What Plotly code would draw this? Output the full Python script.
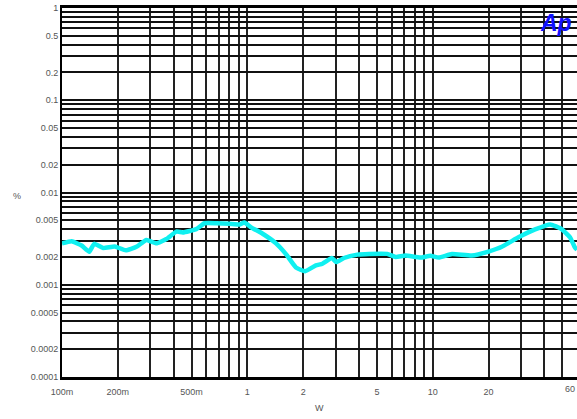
import plotly.graph_objects as go

# Data (W vs THD+N %)
power_w = [0.1, 0.1128, 0.1276, 0.1402, 0.1492, 0.1667, 0.1927, 0.2209, 0.2521, 0.2854,
           0.3229, 0.3656, 0.4137, 0.4489, 0.530, 0.5873, 0.6787, 0.8002, 0.9058, 0.9636,
           1.047, 1.209, 1.427, 1.615, 1.828, 2.05, 2.341, 2.54, 2.854, 3.021,
           3.322, 3.918, 4.529, 5.68, 6.302, 7.133, 8.59, 9.719, 10.77, 12.7,
           16.27, 20.0, 23.59, 29.0, 35.66, 42.95, 49.57, 55.0, 58.5, 60.0]
thdn_pct = [0.00281, 0.00296, 0.00266, 0.00228, 0.00278, 0.00250, 0.00260, 0.00236, 0.00258, 0.00306,
            0.00281, 0.00313, 0.00377, 0.00369, 0.00401, 0.00464, 0.00464, 0.00459, 0.00451, 0.00472,
            0.00419, 0.00357, 0.00281, 0.00215, 0.00154, 0.00140, 0.00162, 0.00169, 0.00195, 0.00176,
            0.00195, 0.00212, 0.00216, 0.00216, 0.00200, 0.00207, 0.00197, 0.00206, 0.00197, 0.00215,
            0.00207, 0.00229, 0.00258, 0.00327, 0.00398, 0.00451, 0.00401, 0.00327, 0.00253, 0.00240]

x_labels = {0.1: "100m", 0.2: "200m", 0.5: "500m", 1: "1", 2: "2", 5: "5", 10: "10", 20: "20"}
x_last_label = "60"
y_labels = {1: "1", 0.5: "0.5", 0.2: "0.2", 0.1: "0.1", 0.05: "0.05", 0.02: "0.02", 0.01: "0.01",
            0.005: "0.005", 0.002: "0.002", 0.001: "0.001", 0.0005: "0.0005", 0.0002: "0.0002",
            0.0001: "0.0001"}

# grid positions 1..9 per decade
x_grid = []
for dec in [0.1, 1, 10]:
    for m in range(1, 10):
        v = round(dec * m, 6)
        if v <= 60:
            x_grid.append(v)
y_grid = []
for dec in [0.0001, 0.001, 0.01, 0.1]:
    for m in range(1, 10):
        y_grid.append(round(dec * m, 8))
y_grid.append(1)

x_text = [x_labels.get(v, "") for v in x_grid]
y_text = [y_labels.get(v, "") for v in y_grid]

fig = go.Figure()
fig.add_trace(go.Scatter(x=power_w, y=thdn_pct, mode="lines",
                         line=dict(color="#10F0F0", width=4.5, shape="spline", smoothing=0.4),
                         showlegend=False))

tick_font = dict(family="Liberation Sans", size=9, color="#555555")
fig.update_layout(
    width=577, height=419,
    margin=dict(l=62, r=0, t=8, b=42),
    paper_bgcolor="white", plot_bgcolor="white",
    xaxis=dict(type="log", range=[-1, 1.7782], tickmode="array", tickvals=x_grid, ticktext=x_text,
               showgrid=True, gridcolor="#222222", gridwidth=1.5, zeroline=False,
               showline=True, linecolor="black", linewidth=3, mirror=True,
               ticks="", tickfont=tick_font, automargin=False, ticklabelstandoff=4),
    yaxis=dict(type="log", range=[-4, 0], tickmode="array", tickvals=y_grid, ticktext=y_text,
               showgrid=True, gridcolor="#111111", gridwidth=2, zeroline=False,
               showline=True, linecolor="black", linewidth=2, mirror=True,
               ticks="", tickfont=tick_font, automargin=False),
    annotations=[
        dict(text=x_last_label, x=1.7782, y=0, xref="x", yref="paper", yshift=-5,
             xanchor="right", yanchor="top", showarrow=False, font=tick_font),
        dict(text="W", x=0.5, y=-0.085, xref="paper", yref="paper", showarrow=False,
             yanchor="middle", font=dict(family="Liberation Sans", size=9, color="#555555")),
        dict(text="%", x=-0.1, y=0.49, xref="paper", yref="paper", showarrow=False,
             font=dict(family="Liberation Sans", size=9, color="#555555")),
        dict(text="<b><i>Ap</i></b>", x=0.96, y=0.96, xref="paper", yref="paper", showarrow=False,
             xanchor="center", yanchor="middle",
             font=dict(family="Liberation Sans", size=23, color="#1010FF")),
    ],
)

fig.write_html("out.html", config={"displayModeBar": False},
               post_script="document.body.style.margin='0';")
